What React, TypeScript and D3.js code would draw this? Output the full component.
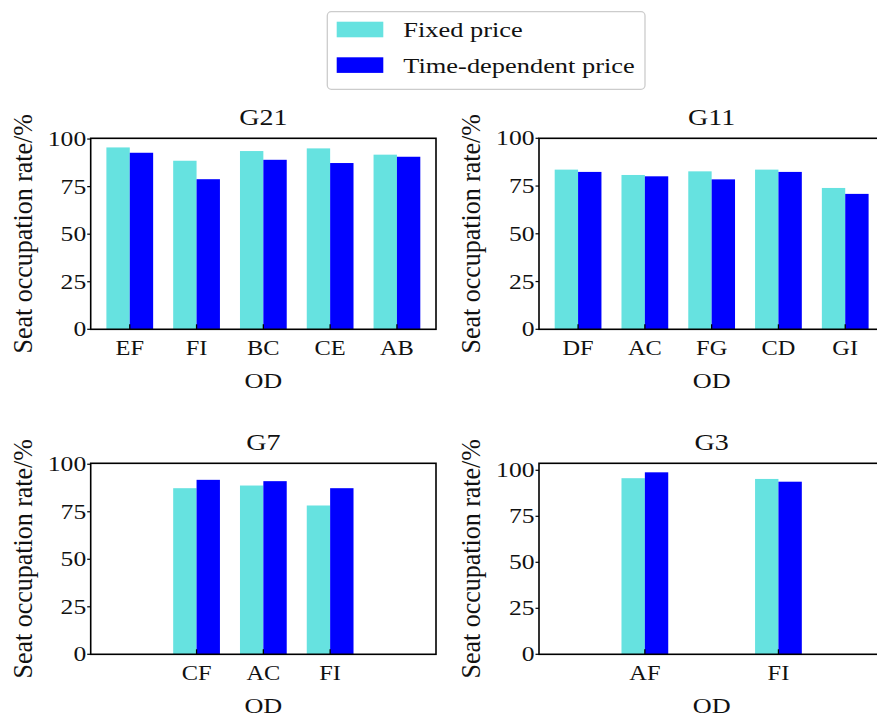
import React from "react";
import * as d3 from "d3";

const seriesNames = ["Fixed price", "Time-dependent price"];
const yTicks = [0, 25, 50, 75, 100];

const g21Cats = ["EF", "FI", "BC", "CE", "AB"];
const g21Pos = [0, 1, 2, 3, 4];
const g21Fixed = [95.6, 88.6, 93.7, 95.1, 91.8];
const g21Time = [92.8, 78.9, 89.1, 87.4, 90.7];

const g11Cats = ["DF", "AC", "FG", "CD", "GI"];
const g11Pos = [0, 1, 2, 3, 4];
const g11Fixed = [83.6, 80.8, 82.7, 83.6, 74.0];
const g11Time = [82.4, 80.1, 78.5, 82.4, 70.9];

const g7Cats = ["CF", "AC", "FI"];
const g7Pos = [1, 2, 3];
const g7Fixed = [87.4, 88.8, 78.3];
const g7Time = [91.8, 91.1, 87.4];

const g3Cats = ["AF", "FI"];
const g3Pos = [1, 3];
const g3Fixed = [95.7, 95.3];
const g3Time = [98.9, 93.8];

const COLORS = ["#66e2e0", "#0000ff"];
const FONT = "'Liberation Serif', 'Times New Roman', serif";
const SX = 1.22;

function T({ x, y, size, anchor = "middle", sx = SX, children }: any) {
  return (
    <text
      transform={`translate(${x},${y}) scale(${sx},1)`}
      fontSize={size}
      textAnchor={anchor}
      fontFamily={FONT}
      fill="#111"
    >
      {children}
    </text>
  );
}

function Panel({ title, cats, pos, fixed, time, yMax, left, top, labelX }: any) {
  const width = 345.3;
  const height = 191;
  const x = d3.scaleLinear().domain([-0.585, 4.585]).range([left, left + width]);
  const y = d3.scaleLinear().domain([0, yMax]).range([top + height, top]);
  const bw = x(0.35) - x(0);
  const bottom = top + height;
  const cx = left + width / 2;
  return (
    <g>
      {cats.map((c: string, i: number) => (
        <g key={c + i}>
          <rect x={x(pos[i]) - bw} y={y(fixed[i])} width={bw} height={bottom - y(fixed[i])} fill={COLORS[0]} />
          <rect x={x(pos[i])} y={y(time[i])} width={bw} height={bottom - y(time[i])} fill={COLORS[1]} />
          <line x1={x(pos[i])} x2={x(pos[i])} y1={bottom} y2={bottom - 5} stroke="#000" strokeWidth={1.3} />
          <T x={x(pos[i])} y={bottom + 26} size={20}>{c}</T>
        </g>
      ))}
      {yTicks.map((t) => (
        <g key={t}>
          <line x1={left - 3.5} x2={left} y1={y(t)} y2={y(t)} stroke="#000" strokeWidth={1.2} />
          <T x={left - 4.5} y={y(t) + 7} size={21} anchor="end">{t}</T>
        </g>
      ))}
      <rect x={left} y={top} width={width} height={height} fill="none" stroke="#000" strokeWidth={1.6} />
      <T x={cx} y={top - 13.5} size={23}>{title}</T>
      <T x={cx} y={bottom + 59} size={21.5}>OD</T>
      <text
        transform={`translate(${labelX},${top + height / 2}) scale(${SX},1) rotate(-90) scale(1.13,1)`}
        fontSize={23}
        textAnchor="middle"
        fontFamily={FONT}
        fill="#111"
      >
        Seat occupation rate/%
      </text>
    </g>
  );
}

export default function App() {
  return (
    <svg
      width={877}
      height={720}
      style={{ position: "absolute", left: 0, top: 0, background: "#fff" }}
    >
      <rect x={0} y={0} width={877} height={720} fill="#fff" />
      <g>
        <rect x={327.3} y={11.7} width={317.7} height={77.6} rx={4} fill="#fff" stroke="#cccccc" strokeWidth={1.3} />
        {seriesNames.map((s, i) => (
          <g key={s}>
            <rect x={336.7} y={21.7 + i * 35.6} width={46.6} height={15.6} fill={COLORS[i]} />
            <T x={403.3} y={37.3 + i * 35.4} size={21.3} sx={1.24} anchor="start">{s}</T>
          </g>
        ))}
      </g>
      <Panel title="G21" cats={g21Cats} pos={g21Pos} fixed={g21Fixed} time={g21Time} yMax={100.4} left={90.7} top={138.3} labelX={31.5} />
      <Panel title="G11" cats={g11Cats} pos={g11Pos} fixed={g11Fixed} time={g11Time} yMax={100} left={539} top={138.3} labelX={480} />
      <Panel title="G7" cats={g7Cats} pos={g7Pos} fixed={g7Fixed} time={g7Time} yMax={100.5} left={90.7} top={463.3} labelX={31.5} />
      <Panel title="G3" cats={g3Cats} pos={g3Pos} fixed={g3Fixed} time={g3Time} yMax={103.8} left={539} top={463.3} labelX={480} />
    </svg>
  );
}
